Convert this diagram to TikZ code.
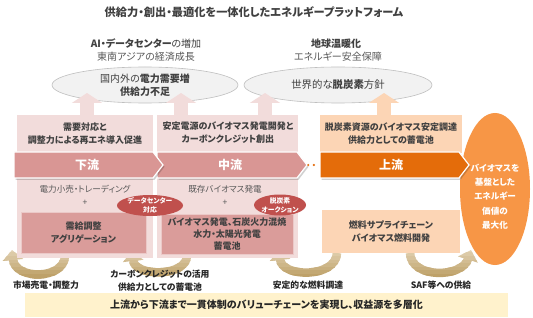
\documentclass[tikz,border=0pt]{standalone}
\usepackage{fontspec}
\setmainfont{Noto Sans CJK JP}[RawFeature=+palt]
\usetikzlibrary{arrows.meta,calc,shapes.geometric}
\definecolor{txt}{HTML}{404040}
\definecolor{txtL}{HTML}{595959}
\definecolor{txtD}{HTML}{262626}
\definecolor{pinkL}{HTML}{F2DCDB}
\definecolor{pinkM}{HTML}{D99694}
\definecolor{pinkB}{HTML}{DA9C9A}
\definecolor{pinkE}{HTML}{EBC9C8}
\definecolor{redB}{HTML}{C0504D}
\definecolor{peach}{HTML}{FCD5B5}
\definecolor{orangeD}{HTML}{E46C0A}
\definecolor{orangeM}{HTML}{F79646}
\definecolor{grayF}{HTML}{F2F2F2}
\definecolor{grayE}{HTML}{BFBFBF}
\definecolor{tanL}{HTML}{F1E8D4}
\definecolor{tanD}{HTML}{B99A5E}
\definecolor{yel}{HTML}{FFF2CC}
\tikzset{
  tx/.style={inner sep=0pt, align=center, text=txt},
  bodyb/.style={tx, font=\fontsize{9}{13}\selectfont\bfseries},
  bodyn/.style={tx, text=txtL, font=\fontsize{8.6}{12}\selectfont},
  bantext/.style={inner sep=0pt, text=white, font=\fontsize{12}{14}\selectfont\bfseries},
  panelbox/.style={rectangle, inner sep=0pt, draw=none},
  lowbox/.style={rectangle, inner sep=0pt, fill=pinkB, draw=pinkE, line width=1pt, align=center, text=txt},
  grayell/.style={ellipse, inner sep=0pt, fill=grayF, draw=grayE, line width=0.6pt, align=center, text=txt},
  uparrow/.style={line width=14pt, -{Triangle[width=30pt,length=10pt]}},
  curvarrow/.style={line width=8.5pt, -{Triangle[width=20pt,length=10pt]}},
  badgetext/.style={inner sep=0pt, align=center, text=white, font=\fontsize{6.8}{9}\selectfont\bfseries},
  curvlabel/.style={tx, text=txtD, font=\fontsize{8.8}{13.5}\selectfont\bfseries},
  banshadow/.style={fill=black, opacity=0.18},
  banborder/.style={draw=white, line width=1.2pt}
}
\newcommand\mycurves[1]{%
  \draw[curvarrow,#1] (c1s) .. controls (64,280) and (15,280) .. (c1e);
  \draw[curvarrow,#1] (c2s) .. controls (186,277) and (135,277) .. (c2e);
  \draw[curvarrow,#1] (c3s) .. controls (336,278) and (282,278) .. (c3e);
  \draw[curvarrow,#1] (c4s) .. controls (411,279) and (462,278) .. (c4e);
}
\begin{document}
\begin{tikzpicture}[x=1pt,y=-1pt]
\useasboundingbox (0,0) rectangle (533,318);
\fill[white] (0,0) rectangle (533,318);

% title and top texts
\node[tx, font=\fontsize{11.2}{13}\selectfont\bfseries] (title) at (254,12) {供給力・創出・最適化を一体化したエネルギープラットフォーム};
\node[tx, font=\fontsize{10}{12}\selectfont] (t1) at (146,44) {\textbf{AI・データセンター}の増加};
\node[tx, text=txtL, font=\fontsize{10}{12}\selectfont] (t2) at (146,57) {東南アジアの経済成長};
\node[tx, font=\fontsize{10}{12}\selectfont\bfseries] (t3) at (336,44) {地球温暖化};
\node[tx, text=txtL, font=\fontsize{10}{12}\selectfont] (t4) at (338,57) {エネルギー安全保障};

% curved arrows (behind panels), vertical gradient by bands
\coordinate (c1s) at (65,256);  \coordinate (c1e) at (12,250);
\coordinate (c2s) at (187,256); \coordinate (c2e) at (132,251);
\coordinate (c3s) at (337,253); \coordinate (c3e) at (279,250);
\coordinate (c4s) at (410,253); \coordinate (c4e) at (471,250);
\foreach \i in {0,...,10} {
  \pgfmathsetmacro\pc{int(12+\i*8.8)}
  \colorlet{bandc}{tanD!\pc!tanL}
  \begin{scope}
    \clip (0,{242+3.6*\i}) rectangle (533,{246.2+3.6*\i});
    \mycurves{bandc}
  \end{scope}
}
\begin{scope}
  \clip (0,281.5) rectangle (533,295);
  \mycurves{tanD}
\end{scope}

% gray ellipses
\node[grayell, minimum width=186pt, minimum height=36pt, font=\fontsize{10}{13}\selectfont] (e1) at (145,85) {国内外の\textbf{電力需要増}\\\textbf{供給力不足}};
\node[grayell, minimum width=188pt, minimum height=36pt, font=\fontsize{10.4}{13}\selectfont] (e2) at (338,85) {世界的な\textbf{脱炭素}方針};

% panels
\node[panelbox, fill=pinkL, minimum width=136pt, minimum height=143pt] (pD) at (85,186.5) {};
\node[panelbox, fill=pinkL, minimum width=141pt, minimum height=143pt] (pM) at (227.5,186.5) {};
\node[panelbox, fill=peach, minimum width=142pt, minimum height=38pt] (pU1) at (391,134) {};
\node[panelbox, fill=peach, minimum width=138pt, minimum height=43pt, bodyb, font=\fontsize{9}{12.5}\selectfont\bfseries] (pU2) at (391,231.5) {燃料サプライチェーン\\バイオマス燃料開発};

% up arrows
\coordinate (a1) at (87,93);
\coordinate (a2) at (181,93);
\coordinate (a3) at (265,93);
\coordinate (a4) at (384,93);
\draw[uparrow, pinkL] (a1 |- pD.north) -- (a1);
\draw[uparrow, pinkL] (a2 |- pM.north) -- (a2);
\draw[uparrow, pinkL] (a3 |- pM.north) -- (a3);
\draw[uparrow, peach] (a4 |- pU1.north) -- (a4);

% orange ellipse
\node[ellipse, inner sep=0pt, fill=orangeM, minimum width=70pt, minimum height=152pt] (oe) at (495,189) {};

% banners
\fill[banshadow, shift={(1.5,1.8)}] (157,152) -- (297,152) -- (307,165) -- (297,178) -- (157,178) -- cycle;
\path[fill=pinkM, banborder] (157,152) -- (297,152) -- (307,165) -- (297,178) -- (157,178) -- cycle;
\fill[banshadow, shift={(1.5,1.8)}] (14,152) -- (153,152) -- (163,165) -- (153,178) -- (14,178) -- cycle;
\path[fill=pinkM, banborder] (14,152) -- (153,152) -- (163,165) -- (153,178) -- (14,178) -- cycle;
\fill[banshadow, shift={(1.5,1.8)}] (320,152) -- (459,152) -- (469,165) -- (459,178) -- (320,178) -- cycle;
\path[fill=orangeD, banborder] (320,152) -- (459,152) -- (469,165) -- (459,178) -- (320,178) -- cycle;
\node[bantext] (bD) at (87,165) {下流};
\node[bantext] (bM) at (230,165) {中流};
\node[bantext] (bU) at (391,165) {上流};
\coordinate (mTip) at (307,165);
\coordinate (uStart) at (320,165);
\draw[orangeD, line width=2.4pt, line cap=round, dash pattern=on 0pt off 5.6pt] ($(mTip)+(1.2,0)$) -- ($(uStart)+(-1.5,0)$);

% lower boxes
\node[lowbox, minimum width=125pt, minimum height=41pt, font=\fontsize{9}{13}\selectfont\bfseries] (lbD) at (83.5,232.5) {需給調整\\アグリゲーション};
\node[lowbox, minimum width=132pt, minimum height=40pt, font=\fontsize{9}{12}\selectfont\bfseries] (lbM) at (227,234) {バイオマス発電、石炭火力混焼\\水力・太陽光発電\\蓄電池};

% panel texts
\node[bodyb] (uD) at (85,133.5) {需要対応と\\調整力による再エネ導入促進};
\node[bodyb] (uM) at (228,133) {安定電源のバイオマス発電開発と\\カーボンクレジット創出};
\node[bodyb] (uU) at (pU1) {脱炭素資源のバイオマス安定調達\\供給力としての蓄電池};
\node[bodyn] (mD) at (85,189) {電力小売・トレーディング};
\node[bodyn] (plD) at (85,203) {+};
\node[bodyn] (mM) at (225,189) {既存バイオマス発電};
\node[bodyn] (plM) at (225,203) {+};

% badges
\fill[redB] (150,205.5) ellipse [x radius=33, y radius=10.5];
\node[badgetext] (bg1) at (150,205.5) {データセンター\\対応};
\fill[redB] (280,205) ellipse [x radius=26, y radius=10.5];
\node[badgetext] (bg2) at (280,205) {脱炭素\\オークション};

% orange ellipse text
\node[inner sep=0pt, align=center, text=white, font=\fontsize{8.6}{14.3}\selectfont\bfseries] (oet) at (495,196.5) {バイオマスを\\基盤とした\\エネルギー\\価値の\\最大化};

% curve labels
\node[curvlabel] (l1) at (46,285) {市場売電・調整力};
\node[curvlabel] (l2) at (160,280.5) {カーボンクレジットの活用\\供給力としての蓄電池};
\node[curvlabel] (l3) at (308,285) {安定的な燃料調達};
\node[curvlabel] (l4) at (441,285) {SAF等への供給};

% bottom banner
\node[rectangle, inner sep=0pt, fill=yel, minimum width=483pt, minimum height=24pt, text=txtD, font=\fontsize{10}{12}\selectfont\bfseries] (bottom) at (266.5,304.5) {上流から下流まで一貫体制のバリューチェーンを実現し、収益源を多層化};
\end{tikzpicture}
\end{document}
